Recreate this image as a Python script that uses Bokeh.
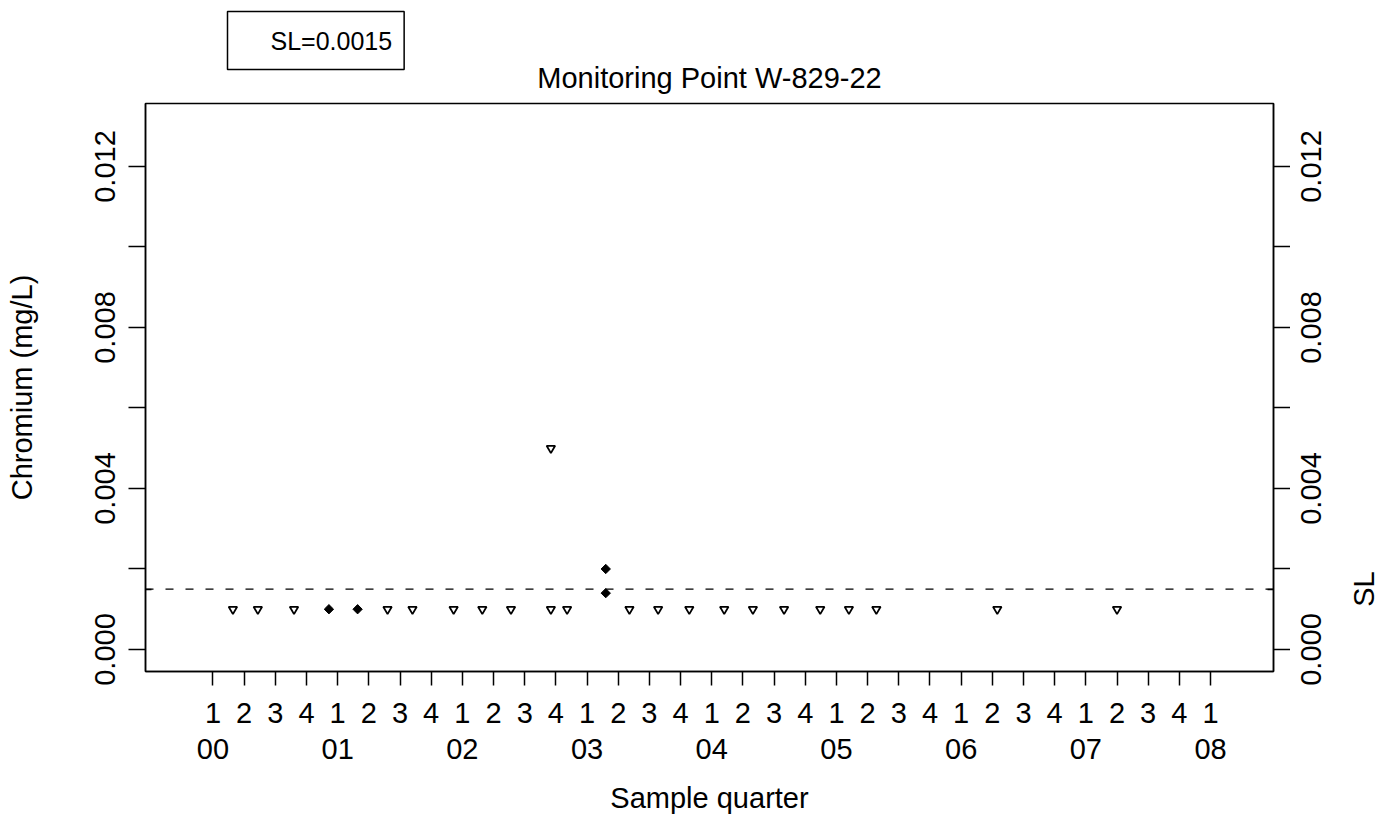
import math
from bokeh.plotting import figure
from bokeh.layouts import row
from bokeh.models import Range1d, LinearAxis, FixedTicker, Span, ColumnDataSource, Title
from bokeh.core.properties import value
from bokeh.embed import file_html
from bokeh.resources import INLINE

# ---------------- data ----------------
title_text = "Monitoring Point W-829-22"
x_label = "Sample quarter"
y_label = "Chromium (mg/L)"
sl_value = 0.0015
sl_label = "SL=0.0015"
sl_axis_label = "SL"

# non-detects (open inverted triangles), decimal year
nd_x = [2000.16, 2000.36, 2000.65, 2001.40, 2001.60, 2001.93, 2002.16, 2002.39,
        2002.71, 2002.71, 2002.84, 2003.34, 2003.57, 2003.82, 2004.10, 2004.33,
        2004.58, 2004.87, 2005.10, 2005.32, 2006.29, 2007.25]
nd_y = [0.001, 0.001, 0.001, 0.001, 0.001, 0.001, 0.001, 0.001,
        0.005, 0.001, 0.001, 0.001, 0.001, 0.001, 0.001, 0.001,
        0.001, 0.001, 0.001, 0.001, 0.001, 0.001]

# detects (filled diamonds)
det_x = [2000.93, 2001.16, 2003.15, 2003.15]
det_y = [0.001, 0.001, 0.002, 0.0014]

years = [2000, 2001, 2002, 2003, 2004, 2005, 2006, 2007, 2008]
year_labels = ["00", "01", "02", "03", "04", "05", "06", "07", "08"]
quarter_labels = ["1", "2", "3", "4"]

y_ticks = [0.0, 0.002, 0.004, 0.006, 0.008, 0.010, 0.012]
y_tick_labels = ["0.000", "", "0.004", "", "0.008", "", "0.012"]

FONT = "Liberation Sans"
FS = "29px"

# geometry
W, H = 1398, 818
MAIN_W = 1290
SIDE_W = W - MAIN_W
B_LEFT, B_RIGHT, B_TOP, B_BOTTOM = 145, 17, 103, 147
Y0, Y1 = -0.000547, 0.013565

# quarter ticks
q_ticks, q_labels = [], []
for yr in years:
    for qi, ql in enumerate(quarter_labels):
        if yr == years[-1] and qi > 0:
            break
        q_ticks.append(yr + qi / 4.0)
        q_labels.append(ql)

p = figure(width=MAIN_W, height=H, output_backend="svg", toolbar_location=None,
           x_range=Range1d(1999.459, 2008.505), y_range=Range1d(Y0, Y1),
           x_axis_location=None, y_axis_location=None, title=None,
           min_border_left=B_LEFT, min_border_right=B_RIGHT,
           min_border_top=B_TOP, min_border_bottom=B_BOTTOM, frame_align=False)
p.grid.visible = False
p.outline_line_color = "black"
p.outline_line_width = 1.5
p.background_fill_color = "white"
p.border_fill_color = "white"

title = Title(text=title_text, align="center", text_font=FONT, text_font_size=FS,
              text_font_style="normal", text_color="black", standoff=20)
p.add_layout(title, "above")

# legend-like box (R legend with text only)
leg = Title(text=sl_label, align="left", offset=82, text_font=FONT, text_font_size="25px",
            text_font_style="normal", text_color="black", standoff=-40,
            border_line_color="black", border_line_width=1.5,
            background_fill_color="white",
            padding=dict(left=43, right=12, top=15, bottom=15))
p.add_layout(leg, "above")


def style_axis(ax):
    ax.axis_line_color = "black"
    ax.axis_line_width = 1.5
    ax.major_tick_line_color = "black"
    ax.major_tick_line_width = 1.5
    ax.minor_tick_line_color = "black"
    ax.minor_tick_line_width = 1.5
    ax.major_label_text_font = FONT
    ax.major_label_text_font_size = FS
    ax.major_label_text_color = "black"
    ax.axis_label_text_font = FONT
    ax.axis_label_text_font_size = FS
    ax.axis_label_text_font_style = "normal"
    ax.axis_label_text_color = "black"


# bottom: quarters
xq = LinearAxis(ticker=FixedTicker(ticks=q_ticks, minor_ticks=[]),
                major_label_overrides={t: l for t, l in zip(q_ticks, q_labels)})
style_axis(xq)
xq.major_tick_out = 14
xq.major_tick_in = 0
xq.major_label_standoff = 17
p.add_layout(xq, "below")

# bottom: years
xy = LinearAxis(ticker=FixedTicker(ticks=years, minor_ticks=[]),
                major_label_overrides={t: l for t, l in zip(years, year_labels)},
                axis_label=x_label)
style_axis(xy)
xy.axis_line_color = None
xy.major_tick_line_color = None
xy.major_tick_out = 0
xy.major_tick_in = 0
xy.major_label_standoff = 13
xy.axis_label_standoff = 20
p.add_layout(xy, "below")

# left axis
yl = LinearAxis(ticker=FixedTicker(ticks=y_ticks, minor_ticks=[sl_value]),
                major_label_overrides={t: l for t, l in zip(y_ticks, y_tick_labels)},
                axis_label=y_label)
style_axis(yl)
yl.major_tick_out = 17
yl.major_tick_in = 0
yl.minor_tick_in = 6
yl.minor_tick_out = 0
yl.major_label_orientation = "vertical"
yl.major_label_standoff = 13
yl.axis_label_standoff = 55
p.add_layout(yl, "left")

# right axis: ticks only (its labels are set in the side panel figure)
yr_ax = LinearAxis(ticker=FixedTicker(ticks=y_ticks, minor_ticks=[sl_value]),
                   major_label_overrides={t: "" for t in y_ticks})
style_axis(yr_ax)
yr_ax.major_tick_out = 17
yr_ax.major_tick_in = 0
yr_ax.minor_tick_in = 6
yr_ax.minor_tick_out = 0
yr_ax.major_label_standoff = 0
yr_ax.major_label_text_font_size = "0px"
p.add_layout(yr_ax, "right")

# SL dashed line
p.add_layout(Span(location=sl_value, dimension="width", line_color="black",
                  line_width=1.3, line_dash="8 12"))

# points
nd_src = ColumnDataSource(dict(x=nd_x, y=nd_y))
det_src = ColumnDataSource(dict(x=det_x, y=det_y))
p.scatter("x", "y", source=nd_src, marker="inverted_triangle", size=8.5,
          fill_color=None, line_color="black", line_width=1.8)
p.scatter("x", "y", source=det_src, marker="square", size=6.6, angle=math.pi / 4,
          fill_color="black", line_color="black", line_width=1)

# ---- side figure holding the right-axis labels (same vertical scale) ----
frame_h = H - B_TOP - B_BOTTOM
per_px = (Y1 - Y0) / frame_h
side_y0 = Y0 - B_BOTTOM * per_px
side_y1 = Y1 + B_TOP * per_px
s = figure(width=SIDE_W, height=H, output_backend="svg", toolbar_location=None,
           x_range=Range1d(0, SIDE_W), y_range=Range1d(side_y0, side_y1),
           x_axis_location=None, y_axis_location=None, title=None,
           min_border_left=0, min_border_right=0, min_border_top=0, min_border_bottom=0,
           frame_align=False)
s.grid.visible = False
s.outline_line_color = None
s.background_fill_color = "white"
s.border_fill_color = "white"

lab_y = [t for t, l in zip(y_ticks, y_tick_labels) if l]
lab_t = [l for l in y_tick_labels if l]
s.text(x=[20] * len(lab_y), y=lab_y, text=lab_t, angle=math.pi / 2,
       text_align="center", text_baseline="middle",
       text_font=value(FONT), text_font_size=value(FS), text_color="black")
s.text(x=[73], y=[sl_value], text=[sl_axis_label], angle=math.pi / 2,
       text_align="center", text_baseline="middle",
       text_font=value(FONT), text_font_size=value(FS), text_color="black")

layout = row(p, s, spacing=0)
open("out.html", "w").write(file_html(layout, INLINE))
